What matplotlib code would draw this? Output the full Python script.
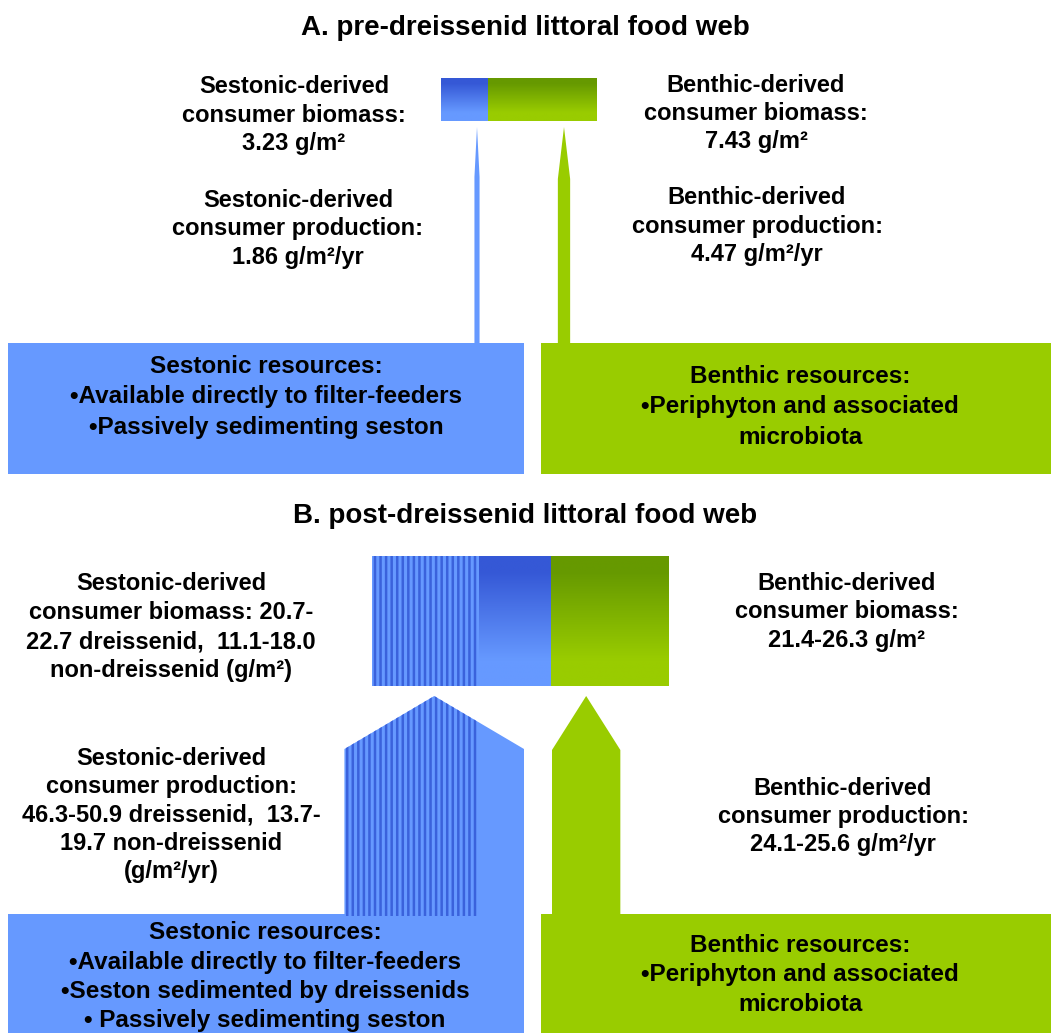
import numpy as np
import matplotlib
matplotlib.use("Agg")
import matplotlib.pyplot as plt
from matplotlib.patches import Polygon, Rectangle
from matplotlib.colors import to_rgb

# ---------------- data ----------------
# Panel A (pre-dreissenid)
biomass_A = [3.23, 7.43]            # sestonic, benthic (g/m2)
production_A = [1.86, 4.47]         # sestonic, benthic (g/m2/yr)
# Panel B (post-dreissenid) ranges
biomass_B_dreissenid = [20.7, 22.7]
biomass_B_nondreissenid = [11.1, 18.0]
biomass_B_benthic = [21.4, 26.3]
production_B_dreissenid = [46.3, 50.9]
production_B_nondreissenid = [13.7, 19.7]
production_B_benthic = [24.1, 25.6]

titles = ["A. pre-dreissenid littoral food web", "B. post-dreissenid littoral food web"]

labels_A_seston_bio = ["Sestonic-derived", "consumer biomass:", "3.23 g/m²"]
labels_A_benth_bio = ["Benthic-derived", "consumer biomass:", "7.43 g/m²"]
labels_A_seston_prod = ["Sestonic-derived", "consumer production:", "1.86 g/m²/yr"]
labels_A_benth_prod = ["Benthic-derived", "consumer production:", "4.47 g/m²/yr"]
labels_A_seston_res = ["Sestonic resources:", "•Available directly to filter-feeders",
                       "•Passively sedimenting seston"]
labels_benth_res = ["Benthic resources:", "•Periphyton and associated", "microbiota"]

labels_B_seston_bio = ["Sestonic-derived", "consumer biomass: 20.7-",
                       "22.7 dreissenid,  11.1-18.0", "non-dreissenid (g/m²)"]
labels_B_benth_bio = ["Benthic-derived", "consumer biomass:", "21.4-26.3 g/m²"]
labels_B_seston_prod = ["Sestonic-derived", "consumer production:",
                        "46.3-50.9 dreissenid,  13.7-", "19.7 non-dreissenid", "(g/m²/yr)"]
labels_B_benth_prod = ["Benthic-derived", "consumer production:", "24.1-25.6 g/m²/yr"]
labels_B_seston_res = ["Sestonic resources:", "•Available directly to filter-feeders",
                       "•Seston sedimented by dreissenids", "• Passively sedimenting seston"]

# ---------------- style ----------------
BLUE = "#6699ff"
BLUE_DARK = "#3558d6"
STRIPE = "#3a62dc"
GREEN = "#99cc00"
GREEN_DARK = "#669900"
FONT = "Liberation Sans"
plt.rcParams["hatch.linewidth"] = 1.8

W, H = 1051, 1033
fig = plt.figure(figsize=(W / 100, H / 100), dpi=100)
ax = fig.add_axes([0, 0, 1, 1])
ax.set_xlim(0, W)
ax.set_ylim(H, 0)
ax.axis("off")

mid = lambda r: 0.5 * (r[0] + r[1])


def text_block(lines, cx, y0, step=29.3, size=17):
    for i, line in enumerate(lines):
        ax.text(cx, y0 + i * step, line, ha="center", va="baseline", fontsize=size,
                fontweight="bold", family=FONT, color="black")


def gradient_rect(x0, y0, w, h, dark, light):
    t = np.linspace(0, 1, 200)
    f = np.clip((t - 0.12) / 0.68, 0, 1)[:, None]
    c = np.array(to_rgb(dark)) * (1 - f) + np.array(to_rgb(light)) * f
    img = np.repeat(c[:, None, :], 2, axis=1)
    ax.imshow(img, extent=(x0, x0 + w, y0 + h, y0), aspect="auto",
              interpolation="bilinear", zorder=2)


def striped_rect(x0, y0, w, h):
    ax.add_patch(Rectangle((x0, y0), w, h, facecolor=BLUE, edgecolor="none", zorder=2))
    ax.add_patch(Rectangle((x0, y0), w, h, facecolor="none", edgecolor=STRIPE,
                           linewidth=0, hatch="|||", zorder=3))


def arrow_pts(left, width, tip, head, bottom):
    return [(left, bottom), (left, tip + head), (left + width / 2, tip),
            (left + width, tip + head), (left + width, bottom)]


def arrow(left, width, tip, head, bottom, color, striped_w=0.0):
    pts = arrow_pts(left, width, tip, head, bottom)
    ax.add_patch(Polygon(pts, closed=True, facecolor=color, edgecolor="none", zorder=2))
    if striped_w > 0:
        hp = Polygon(pts, closed=True, facecolor="none", edgecolor=STRIPE,
                     linewidth=0, hatch="|||", zorder=3)
        ax.add_patch(hp)
        clip = Rectangle((left, tip - 5), striped_w, bottom - tip + 10,
                         transform=ax.transData, facecolor="none", edgecolor="none")
        hp.set_clip_path(clip)


# ---------------- Panel A ----------------
ax.text(525, 35, titles[0], ha="center", va="baseline", fontsize=20,
        fontweight="bold", family=FONT)

sA = 14.6        # px per g/m2 (biomass bar)
pS = 2.75        # px per g/m2/yr (production arrows)
barA_x, barA_y, barA_h = 441, 78, 43
wA0 = biomass_A[0] * sA
wA1 = biomass_A[1] * sA
gradient_rect(barA_x, barA_y, wA0, barA_h, BLUE_DARK, BLUE)
gradient_rect(barA_x + wA0, barA_y, wA1, barA_h, GREEN_DARK, GREEN)

boxA_top, boxA_bot = 343, 474
wp0 = production_A[0] * pS
wp1 = production_A[1] * pS
arrow(477 - wp0 / 2, wp0, 127, 50, boxA_top + 2, BLUE)
arrow(564 - wp1 / 2, wp1, 127, 52, boxA_top + 2, GREEN)

ax.add_patch(Rectangle((8, boxA_top), 516, boxA_bot - boxA_top, facecolor=BLUE,
                       edgecolor="none", zorder=2))
ax.add_patch(Rectangle((541, boxA_top), 520, boxA_bot - boxA_top, facecolor=GREEN,
                       edgecolor="none", zorder=2))

text_block(labels_A_seston_bio, 294, 93, 28.5)
text_block(labels_A_benth_bio, 756, 92, 28)
text_block(labels_A_seston_prod, 298, 207, 28.5)
text_block(labels_A_benth_prod, 757, 204, 28.5)
text_block(labels_A_seston_res, 266, 373, 30.5, 17.5)
text_block(labels_benth_res, 800, 383, 30.5, 17.5)

# ---------------- Panel B ----------------
ax.text(525, 523, titles[1], ha="center", va="baseline", fontsize=20,
        fontweight="bold", family=FONT)

sB = 4.93
barB_x, barB_y, barB_h = 372, 556, 130
wB0 = mid(biomass_B_dreissenid) * sB
wB1 = mid(biomass_B_nondreissenid) * sB
wB2 = mid(biomass_B_benthic) * sB
striped_rect(barB_x, barB_y, wB0, barB_h)
gradient_rect(barB_x + wB0, barB_y, wB1, barB_h, BLUE_DARK, BLUE)
gradient_rect(barB_x + wB0 + wB1, barB_y, wB2, barB_h, GREEN_DARK, GREEN)

boxB_top = 914
wq0 = mid(production_B_dreissenid) * pS
wq1 = mid(production_B_nondreissenid) * pS
wq2 = mid(production_B_benthic) * pS
blue_right = 524
arrow(blue_right - wq0 - wq1, wq0 + wq1, 696, 53, boxB_top + 2, BLUE, striped_w=wq0)
arrow(552, wq2, 696, 54, boxB_top + 2, GREEN)

ax.add_patch(Rectangle((8, boxB_top), 516, H - boxB_top + 5, facecolor=BLUE,
                       edgecolor="none", zorder=2))
ax.add_patch(Rectangle((541, boxB_top), 520, H - boxB_top + 5, facecolor=GREEN,
                       edgecolor="none", zorder=2))

text_block(labels_B_seston_bio, 171, 590, 29)
text_block(labels_B_benth_bio, 847, 590, 28.5)
text_block(labels_B_seston_prod, 171, 765, 28.3)
text_block(labels_B_benth_prod, 843, 795, 27.8)
text_block(labels_B_seston_res, 265, 939, 29.5, 17.5)
text_block(labels_benth_res, 800, 952, 29.5, 17.5)

fig.savefig("out.png", dpi=100)
